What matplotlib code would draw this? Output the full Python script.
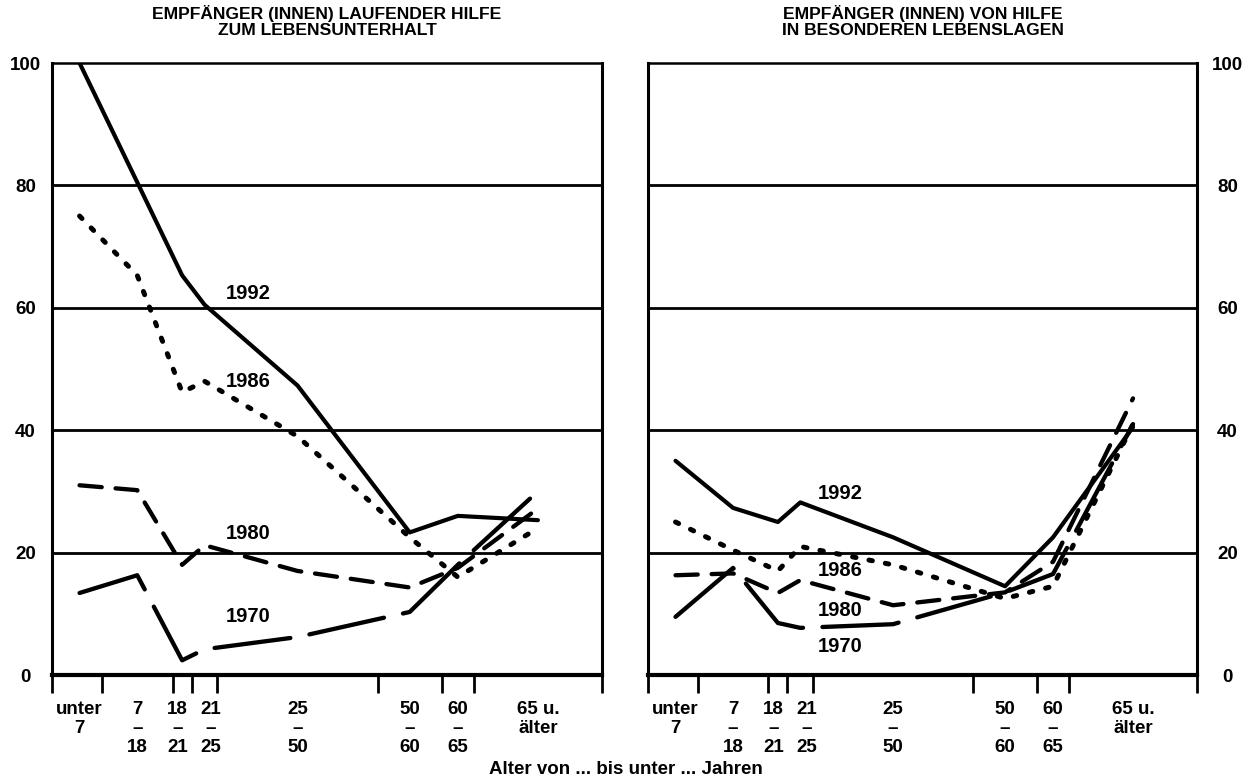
import matplotlib
matplotlib.use("Agg")
import matplotlib.pyplot as plt
from matplotlib.transforms import blended_transform_factory

plt.rcParams['font.family'] = ['Liberation Sans', 'DejaVu Sans']
plt.rcParams['font.weight'] = 'bold'
plt.rcParams['lines.scale_dashes'] = False

# ---------------- data ----------------
# age-group midpoints (years) used as x positions
age_mid = [3.5, 12.5, 19.5, 23, 37.5, 55, 62.5, 75]
# age-group boundaries (tick marks)
age_bounds = [7, 18, 21, 25, 50, 60, 65]
cat_labels = ["unter\n7", "7\n–\n18", "18\n–\n21", "21\n–\n25",
              "25\n–\n50", "50\n–\n60", "60\n–\n65", "65 u.\nälter"]
cat_label_pos = [3.5, 12.5, 18.8, 24.0, 37.5, 55, 62.5, 75]
years = ["1992", "1986", "1980", "1970"]

left_1992 = [100, 80.5, 65.3, 60.5, 47.3, 23.3, 26.0, 25.3]
left_1986 = [75, 65.3, 46.2, 48.0, 39.0, 22.5, 16.0, 24.0]
left_1980 = [31, 30.2, 18.0, 21.2, 17.0, 14.3, 17.5, 27.2]
left_1970 = [13.4, 16.3, 2.4, 4.2, 6.2, 10.3, 18.0, 30.0]

right_1992 = [35, 27.3, 25.0, 28.2, 22.5, 14.5, 22.5, 40.5]
right_1986 = [25, 20.4, 17.0, 21.0, 18.0, 12.5, 14.5, 41.0]
right_1980 = [16.3, 16.6, 13.4, 15.5, 11.4, 13.5, 18.5, 45.2]
right_1970 = [9.5, 17.5, 8.5, 7.7, 8.3, 13.5, 16.5, 41.0]

y_ticks = [0, 20, 40, 60, 80, 100]

title_left = "EMPFÄNGER (INNEN) LAUFENDER HILFE\nZUM LEBENSUNTERHALT"
title_right = "EMPFÄNGER (INNEN) VON HILFE\nIN BESONDEREN LEBENSLAGEN"
x_title = "Alter von ... bis unter ... Jahren"

# year label positions (age, value)
left_label_pos = {"1992": (29.8, 62.4), "1986": (29.8, 48.0),
                  "1980": (29.8, 23.2), "1970": (29.8, 9.5)}
right_label_pos = {"1992": (29.2, 29.6), "1986": (29.2, 17.1),
                   "1980": (29.2, 10.6), "1970": (29.2, 4.6)}

# ---------------- styles ----------------
styles = {
    "1992": dict(linestyle='-', lw=3.0, solid_capstyle='round'),
    "1986": dict(linestyle=(0, (2.5, 9.5)), lw=3.6, dash_capstyle='round'),
    "1980": dict(linestyle=(0, (16, 10)), lw=3.1, dash_capstyle='round'),
    "1970": dict(linestyle=(0, (55, 14)), lw=3.1, dash_capstyle='round'),
}

W, H = 1252, 779
fig = plt.figure(figsize=(W / 100, H / 100), dpi=100)
fig.patch.set_facecolor('white')

ax_l = fig.add_axes([52 / W, 104 / H, 550 / W, 612 / H])
ax_r = fig.add_axes([648 / W, 104 / H, 549 / W, 612 / H])

XMIN, XMAX = -0.8, 85


def setup(ax, side, series, label_pos, title):
    ax.set_xlim(XMIN, XMAX)
    ax.set_ylim(0, 100)
    for v in y_ticks[1:-1]:
        ax.axhline(v, color='black', lw=2.0, zorder=1)
    for yr, data in zip(years, series):
        ax.plot(age_mid, data, color='black', solid_joinstyle='round',
                dash_joinstyle='round', zorder=3, clip_on=True, **styles[yr])
        lx, ly = label_pos[yr]
        ax.text(lx, ly, yr, ha='center', va='center', fontsize=14.5,
                fontweight='bold', zorder=4)
    # spines
    ax.spines['top'].set_linewidth(1.8)
    ax.spines['left'].set_linewidth(2.2)
    ax.spines['right'].set_linewidth(2.2)
    ax.spines['bottom'].set_linewidth(3.0)
    # x ticks at group boundaries + ends
    ax.set_xticks([XMIN] + age_bounds + [XMAX])
    ax.set_xticklabels([])
    ax.tick_params(axis='x', direction='out', length=13, width=2.0,
                   color='black')
    # y tick labels
    ax.set_yticks(y_ticks)
    ax.set_yticklabels([str(v) for v in y_ticks], fontsize=13.5,
                       fontweight='bold')
    if side == 'left':
        ax.tick_params(axis='y', length=0, pad=19, left=True, right=False,
                       labelleft=True, labelright=False)
    else:
        ax.tick_params(axis='y', length=0, pad=22, left=False, right=True,
                       labelleft=False, labelright=True)
    for t in ax.get_yticklabels():
        t.set_horizontalalignment('center')
    # category labels
    trans = blended_transform_factory(ax.transData, ax.transAxes)
    for pos, lab in zip(cat_label_pos, cat_labels):
        ax.annotate(lab, xy=(pos, 0), xycoords=trans, xytext=(0, -19),
                    textcoords='offset points', ha='center', va='top',
                    fontsize=13.5, fontweight='bold', linespacing=1.13)
    ax.text(0.5, 1.0 + 58 / 612, title, transform=ax.transAxes,
            ha='center', va='top', fontsize=12.6, fontweight='bold',
            linespacing=1.08)


setup(ax_l, 'left', [left_1992, left_1986, left_1980, left_1970],
      left_label_pos, title_left)
setup(ax_r, 'right', [right_1992, right_1986, right_1980, right_1970],
      right_label_pos, title_right)

fig.text(626 / W, 1 - 769 / H, x_title, ha='center', va='center',
         fontsize=13.5, fontweight='bold')

fig.savefig("out.png", dpi=100, facecolor='white')
